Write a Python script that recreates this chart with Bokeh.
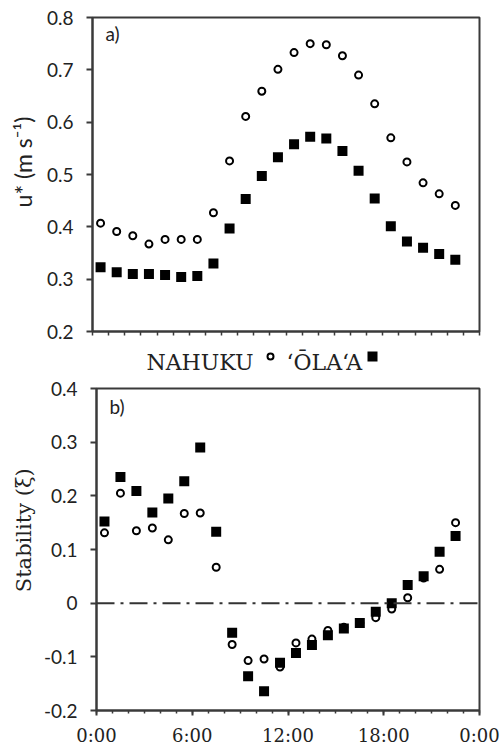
import math
from bokeh.plotting import figure
from bokeh.layouts import column, row
from bokeh.models import Range1d, FixedTicker, Span, Label
from bokeh.core.properties import value
from bokeh.embed import file_html
from bokeh.resources import INLINE

# Half-hourly bins (hours after midnight)
hours = [0.5, 1.5, 2.5, 3.5, 4.5, 5.5, 6.5, 7.5, 8.5, 9.5, 10.5, 11.5,
         12.5, 13.5, 14.5, 15.5, 16.5, 17.5, 18.5, 19.5, 20.5, 21.5, 22.5]

# Friction velocity u* (m s-1)
ustar_nahuku = [0.407, 0.391, 0.383, 0.367, 0.376, 0.376, 0.376, 0.427, 0.526,
                0.611, 0.659, 0.701, 0.733, 0.750, 0.748, 0.727, 0.690, 0.635,
                0.570, 0.524, 0.484, 0.463, 0.441]
ustar_olaa = [0.323, 0.313, 0.310, 0.310, 0.308, 0.304, 0.306, 0.330, 0.397,
              0.453, 0.497, 0.533, 0.558, 0.572, 0.569, 0.545, 0.507, 0.454,
              0.401, 0.372, 0.360, 0.348, 0.337]

# Stability parameter xi
xi_nahuku = [0.131, 0.205, 0.135, 0.140, 0.118, 0.167, 0.168, 0.067, -0.077,
             -0.107, -0.104, -0.119, -0.074, -0.067, -0.051, -0.045, -0.037,
             -0.027, -0.011, 0.010, 0.047, 0.063, 0.150]
xi_olaa = [0.152, 0.235, 0.209, 0.169, 0.195, 0.227, 0.290, 0.133, -0.055,
           -0.136, -0.164, -0.111, -0.093, -0.078, -0.060, -0.047, -0.037,
           -0.016, 0.000, 0.034, 0.050, 0.096, 0.125]

time_ticks = [0, 6, 12, 18, 24]
time_labels = ["0:00", "6:00", "12:00", "18:00", "0:00"]
hour_ticks = [0, 1, 2, 3, 4, 5, 6, 7, 8, 9, 10, 11, 12,
              13, 14, 15, 16, 17, 18, 19, 20, 21, 22, 23, 24]
ustar_ticks = [0.2, 0.3, 0.4, 0.5, 0.6, 0.7, 0.8]
ustar_labels = ["0.2", "0.3", "0.4", "0.5", "0.6", "0.7", "0.8"]
xi_ticks = [-0.2, -0.1, 0, 0.1, 0.2, 0.3, 0.4]
xi_labels = ["-0.2", "-0.1", "0", "0.1", "0.2", "0.3", "0.4"]

SANS = "Lato"
SERIF = "DejaVu Serif"
INK = "#222222"
FRAME = "#3a3a3a"

STRIP_W = 40          # width of the strip carrying each y-axis title
PANEL_W = 503 - STRIP_W


def style_panel(p, yticks, ylabels, show_x_labels):
    p.xgrid.visible = False
    p.ygrid.visible = False
    p.outline_line_color = FRAME
    p.outline_line_width = 2
    p.outline_line_alpha = 1
    p.border_fill_color = "white"

    xa = p.xaxis[0]
    xa.axis_line_color = FRAME
    xa.axis_line_width = 2
    xa.major_tick_line_color = FRAME
    xa.minor_tick_line_color = FRAME
    xa.major_tick_line_width = 2
    xa.minor_tick_line_width = 1.5
    xa.major_tick_in = 0
    xa.major_tick_out = 5
    xa.minor_tick_in = 0
    xa.minor_tick_out = 3
    if show_x_labels:
        xa.ticker = FixedTicker(ticks=time_ticks, minor_ticks=hour_ticks)
        xa.major_label_overrides = dict(zip(time_ticks, time_labels))
        xa.major_label_text_font = SERIF
        xa.major_label_text_font_size = "18px"
        xa.major_label_text_color = INK
        xa.major_label_standoff = 9
    else:
        # unlabelled time axis: hourly ticks only
        xa.ticker = FixedTicker(ticks=[], minor_ticks=hour_ticks)
        xa.minor_tick_out = 4

    ya = p.yaxis[0]
    ya.ticker = FixedTicker(ticks=yticks, minor_ticks=[])
    ya.major_label_overrides = dict(zip(yticks, ylabels))
    ya.axis_line_color = FRAME
    ya.axis_line_width = 2
    ya.major_tick_line_color = FRAME
    ya.major_tick_line_width = 2
    ya.major_tick_in = 0
    ya.major_tick_out = 6
    ya.minor_tick_line_color = None
    ya.major_label_text_font = SANS
    ya.major_label_text_font_size = "19px"
    ya.major_label_text_color = INK
    ya.major_label_standoff = 13


def add_series(p, nahuku, olaa):
    p.scatter(hours, nahuku, marker="circle", size=7, fill_color="white",
              line_color="black", line_width=2)
    p.scatter(hours, olaa, marker="square", size=10, fill_color="black",
              line_color="black", line_width=0)


def title_strip(height, text, font, size, x, y):
    s = figure(width=STRIP_W, height=height, x_range=Range1d(0, STRIP_W),
               y_range=Range1d(0, height), output_backend="svg",
               toolbar_location=None, min_border=0)
    s.axis.visible = False
    s.grid.visible = False
    s.outline_line_color = None
    s.text(x=[x], y=[y], text=[text], angle=math.pi / 2, text_align="center",
           text_baseline="middle", text_font=value(font),
           text_font_size=size, text_color=INK)
    return s


TOP_H = 341
KEY_H = 33
BOT_H = 751 - TOP_H - KEY_H

# Panel a): friction velocity
top = figure(width=PANEL_W, height=TOP_H, x_range=Range1d(0, 24),
             y_range=Range1d(0.2, 0.8), output_backend="svg",
             toolbar_location=None, min_border_left=92 - STRIP_W,
             min_border_right=24, min_border_top=17, min_border_bottom=10)
style_panel(top, ustar_ticks, ustar_labels, show_x_labels=False)
add_series(top, ustar_nahuku, ustar_olaa)
top.add_layout(Label(x=13, y=298, x_units="screen", y_units="screen",
                     text="a)", text_align="left", text_baseline="middle",
                     text_font=SANS, text_font_size="19px", text_color=INK))
top_strip = title_strip(TOP_H, "u* (m s\u207b\u00b9)", SANS, "23px",
                        22, TOP_H - 157)

# Key shared by both panels
key = figure(width=503, height=KEY_H, x_range=Range1d(0, 503),
             y_range=Range1d(0, KEY_H), output_backend="svg",
             toolbar_location=None, min_border=0)
key.axis.visible = False
key.grid.visible = False
key.outline_line_color = None
key.text(x=[253], y=[12], text=["NAHUKU"], text_align="right",
         text_baseline="alphabetic", text_font=value(SERIF),
         text_font_size="22px", text_color=INK)
key.scatter(x=[270], y=[18], marker="circle", size=6, fill_color="white",
            line_color="black", line_width=2)
key.text(x=[286], y=[12], text=["\u02bb\u014cLA\u02bbA"], text_align="left",
         text_baseline="alphabetic", text_font=value(SERIF),
         text_font_size="22px", text_color=INK)
key.scatter(x=[372], y=[18], marker="square", size=10, fill_color="black",
            line_color="black", line_width=0)

# Panel b): stability
bottom = figure(width=PANEL_W, height=BOT_H, x_range=Range1d(0, 24),
                y_range=Range1d(-0.2, 0.4), output_backend="svg",
                toolbar_location=None, min_border_left=92 - STRIP_W,
                min_border_right=24, min_border_top=14, min_border_bottom=41)
style_panel(bottom, xi_ticks, xi_labels, show_x_labels=True)
bottom.add_layout(Span(location=0, dimension="width", line_color="#333333",
                       line_width=2, line_dash="18 6 3 6"))
add_series(bottom, xi_nahuku, xi_olaa)
bottom.add_layout(Label(x=13, y=304, x_units="screen", y_units="screen",
                        text="b)", text_align="left", text_baseline="middle",
                        text_font=SANS, text_font_size="19px",
                        text_color=INK))
bottom_strip = title_strip(BOT_H, "Stability (\u03be)", SERIF, "21px",
                           23, BOT_H - 166)

layout = column(row(top_strip, top, spacing=0), key,
                row(bottom_strip, bottom, spacing=0), spacing=0)
open("out.html", "w").write(file_html(layout, INLINE))
